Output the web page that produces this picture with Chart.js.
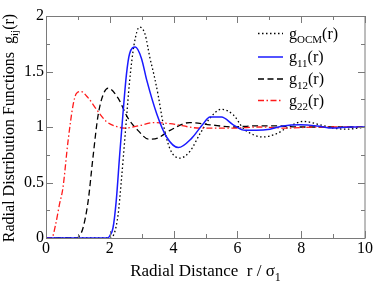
<!DOCTYPE html>
<html><head><meta charset="utf-8">
<script src="https://cdn.jsdelivr.net/npm/chart.js@4/dist/chart.umd.min.js"></script>
<style>html,body{margin:0;padding:0;background:#fff}#wrap{width:374px;height:281px}</style>
</head><body><div id="wrap"><canvas id="c" width="374" height="281"></canvas></div>
<script>
// Data
const rOCM = [0, 2.02, 2.15, 2.26, 2.36, 2.49, 2.62, 2.76, 2.93, 3.1, 3.26, 3.4, 3.52, 3.68, 3.89, 4.2, 4.51, 4.83, 5.14, 5.5, 5.87, 6.18, 6.5, 6.8, 7.23, 7.54, 8.07, 8.59, 9.0, 9.43, 10];
const gOCM = [0, 0, 0.05, 0.21, 0.51, 0.96, 1.41, 1.74, 1.9, 1.84, 1.62, 1.45, 1.28, 1.02, 0.8, 0.72, 0.78, 0.94, 1.08, 1.16, 1.11, 0.99, 0.93, 0.91, 0.94, 0.99, 1.05, 1.02, 0.99, 0.98, 1.0];
const r11 = [0, 1.92, 2.0, 2.1, 2.2, 2.31, 2.41, 2.52, 2.62, 2.8, 2.99, 3.16, 3.47, 3.78, 4.15, 4.57, 4.93, 5.14, 5.5, 5.87, 6.24, 6.6, 7.02, 7.44, 7.96, 8.49, 9.0, 9.53, 10];
const g11 = [0, 0, 0.02, 0.09, 0.33, 0.75, 1.11, 1.47, 1.66, 1.72, 1.62, 1.42, 1.12, 0.91, 0.815, 0.9, 1.03, 1.09, 1.09, 1.02, 0.97, 0.97, 0.98, 1.01, 1.02, 1.01, 0.99, 1.0, 1.0];
const r12 = [0, 0.95, 1.05, 1.16, 1.32, 1.47, 1.63, 1.79, 1.95, 2.26, 2.57, 2.88, 3.22, 3.5, 3.89, 4.5, 5.14, 5.87, 6.5, 7.2, 8.0, 9.0, 10];
const g12 = [0, 0, 0.02, 0.09, 0.33, 0.72, 1.1, 1.29, 1.35, 1.26, 1.08, 0.97, 0.89, 0.9, 0.97, 1.04, 1.02, 1.0, 1.01, 1.01, 1.0, 1.0, 1.0];
const r22 = [0, 0.18, 0.3, 0.42, 0.53, 0.69, 0.85, 0.95, 1.1, 1.3, 1.63, 1.89, 2.26, 2.47, 2.9, 3.4, 3.89, 4.83, 5.86, 6.7, 7.5, 8.5, 10];
const g22 = [0, 0, 0.12, 0.3, 0.45, 0.87, 1.2, 1.3, 1.32, 1.27, 1.14, 1.05, 1.0, 0.99, 1.01, 1.04, 1.03, 0.99, 0.99, 1.0, 0.99, 1.0, 1.0];
const xTicks = [0, 2, 4, 6, 8, 10];
const yTicks = [0, 0.5, 1, 1.5, 2];
const legendLabels = [
  [{t:'g'},{t:'OCM',s:1},{t:'(r)'}],
  [{t:'g'},{t:'11',s:1},{t:'(r)'}],
  [{t:'g'},{t:'12',s:1},{t:'(r)'}],
  [{t:'g'},{t:'22',s:1},{t:'(r)'}]
];
const xTitle = [{t:'Radial Distance  r / σ'},{t:'1',s:1}];
const yTitle = [{t:'Radial Distribution Functions  g'},{t:'ij',s:1},{t:'(r)'}];

const pts = (xs, ys) => xs.map((x, i) => ({x, y: ys[i]}));
const FONT = '"Liberation Serif", "Times New Roman", serif';

const series = [
  {data: pts(rOCM, gOCM), color: '#000000', dash: [1.5, 2.5], width: 1.3},
  {data: pts(r11, g11), color: '#1a1aff', dash: [], width: 1.5},
  {data: pts(r12, g12), color: '#000000', dash: [6, 3.5], width: 1.3},
  {data: pts(r22, g22), color: '#ff1a1a', dash: [6, 2.5, 1.5, 2.5], width: 1.3}
];

function richWidth(ctx, parts, main, sub) {
  let w = 0;
  for (const p of parts) { ctx.font = (p.s ? sub : main) + 'px ' + FONT; w += ctx.measureText(p.t).width; }
  return w;
}
function drawRich(ctx, x, y, parts, main, sub, subOff) {
  ctx.textBaseline = 'alphabetic'; ctx.textAlign = 'left'; ctx.fillStyle = '#000';
  for (const p of parts) {
    ctx.font = (p.s ? sub : main) + 'px ' + FONT;
    ctx.fillText(p.t, x, y + (p.s ? subOff : 0));
    x += ctx.measureText(p.t).width;
  }
}

const decor = {
  id: 'decor',
  afterDatasetsDraw(chart) {
    const ctx = chart.ctx, a = chart.chartArea;
    const xs = chart.scales.x, ys = chart.scales.y;
    ctx.save();
    ctx.strokeStyle = '#7a7a7a'; ctx.lineWidth = 1; ctx.setLineDash([]);
    ctx.strokeRect(Math.round(a.left) + 0.5, Math.round(a.top) + 0.5, Math.round(a.right - a.left) - 0.5, Math.round(a.bottom - a.top));
    ctx.beginPath();
    for (let v = 0; v <= 10; v += 1) {
      const px = Math.round(xs.getPixelForValue(v)) + 0.5;
      const L = (v % 2 === 0) ? 7 : 4;
      ctx.moveTo(px, a.bottom); ctx.lineTo(px, a.bottom - L);
      ctx.moveTo(px, a.top); ctx.lineTo(px, a.top + L);
    }
    for (let k = 0; k <= 8; k++) {
      const v = k * 0.25;
      const py = Math.round(ys.getPixelForValue(v)) + 0.5;
      const L = (k % 2 === 0) ? 7 : 4;
      ctx.moveTo(a.left, py); ctx.lineTo(a.left + L, py);
      ctx.moveTo(a.right, py); ctx.lineTo(a.right - L, py);
    }
    ctx.stroke();
    // legend
    const rows = [33.5, 57, 79, 100.5];
    series.forEach((s, i) => {
      ctx.strokeStyle = s.color; ctx.lineWidth = s.width; ctx.setLineDash(s.dash);
      ctx.beginPath(); ctx.moveTo(258, rows[i]); ctx.lineTo(283, rows[i]); ctx.stroke();
      drawRich(ctx, 289, rows[i] + 5, legendLabels[i], 16, 11, 4.5);
    });
    ctx.setLineDash([]);
    // x title
    const cx = (a.left + a.right) / 2;
    const wX = richWidth(ctx, xTitle, 17, 12);
    drawRich(ctx, cx - wX / 2, 276, xTitle, 17, 12, 4.5);
    // y title
    const cy = (a.top + a.bottom) / 2 + 1;
    const wY = richWidth(ctx, yTitle, 16, 11);
    ctx.translate(14, cy); ctx.rotate(-Math.PI / 2);
    drawRich(ctx, -wY / 2, 0, yTitle, 16, 11, 4);
    ctx.restore();
  }
};

new Chart(document.getElementById('c'), {
  type: 'line',
  data: {
    datasets: series.map((s, i) => ({
      label: 'g' + i,
      data: s.data,
      borderColor: s.color,
      borderWidth: s.width,
      borderDash: s.dash,
      pointRadius: 0,
      fill: false,
      cubicInterpolationMode: 'monotone',
      order: [3, 0, 2, 1][i]
    }))
  },
  options: {
    responsive: false,
    animation: false,
    layout: {padding: {top: 16, right: 9, left: 0, bottom: 0}},
    plugins: {legend: {display: false}, tooltip: {enabled: false}},
    scales: {
      x: {
        type: 'linear', min: 0, max: 10,
        afterFit: s => { s.height = 43; },
        afterBuildTicks: s => { s.ticks = xTicks.map(v => ({value: v})); },
        grid: {display: false, drawTicks: false},
        border: {display: false},
        ticks: {padding: 1, color: '#000', font: {family: FONT, size: 16}, maxRotation: 0, callback: v => String(v)}
      },
      y: {
        type: 'linear', min: 0, max: 2,
        afterFit: s => { s.width = 46; },
        afterBuildTicks: s => { s.ticks = yTicks.map(v => ({value: v})); },
        grid: {display: false, drawTicks: false},
        border: {display: false},
        ticks: {padding: 2, color: '#000', font: {family: FONT, size: 16}, callback: v => String(v)}
      }
    }
  },
  plugins: [decor]
});
</script></body></html>
